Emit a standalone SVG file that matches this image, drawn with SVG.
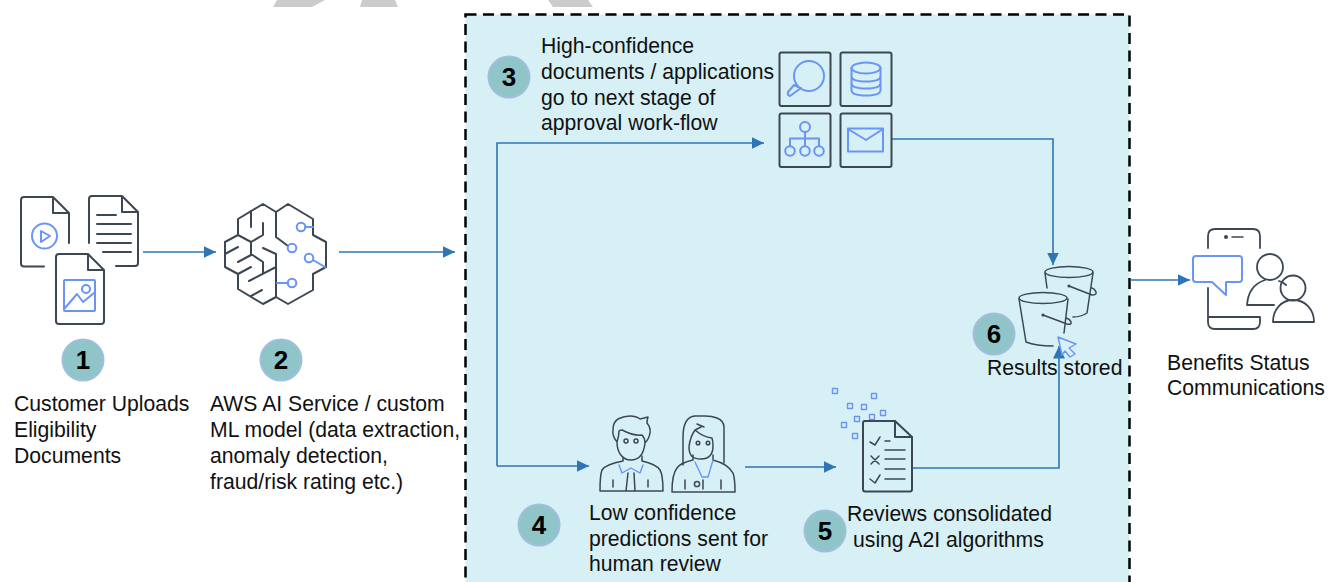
<svg xmlns="http://www.w3.org/2000/svg" width="1340" height="582" viewBox="0 0 1340 582">
<style>
text{font-family:"Liberation Sans",Arial,sans-serif;font-size:21.2px;fill:#111}
.n{font-size:26px;font-weight:bold;fill:#000;text-anchor:middle}
.b{fill:#8fc5c9;stroke:#a0bfdc;stroke-width:2}
.d{fill:none;stroke:#3c4754;stroke-width:2;stroke-linejoin:round;stroke-linecap:round}
.t{fill:none;stroke:#3c4754;stroke-width:1.5;stroke-linejoin:round;stroke-linecap:round}
.a{fill:none;stroke:#6a94f5;stroke-width:2;stroke-linejoin:round;stroke-linecap:round}
.s{fill:none;stroke:#6a94f5;stroke-width:1.4;stroke-linejoin:round;stroke-linecap:round}
.c{fill:none;stroke:#2f75b5;stroke-width:1.6}
.h{fill:#2f75b5}
</style>
<defs>
<marker id="ah" markerUnits="userSpaceOnUse" markerWidth="13" markerHeight="13" refX="12.500" refY="6.500" orient="auto"><path class="h" d="M0 0.500L12.500 6.500L0 12.500Z"/></marker>
</defs>
<g id="watermark"><path fill="#cccccc" d="M277 0H325L312 7H273Z M362 0H395L398 7H360Z M548 0H588L593 7H553Z"/></g>
<rect id="panel" x="465.500" y="14.500" width="664" height="580" fill="#d6f0f5" stroke="#000" stroke-width="2.500" stroke-dasharray="11 6.500"/>
<g id="connectors">
<path class="c" marker-end="url(#ah)" d="M143 252H216"/>
<path class="c" marker-end="url(#ah)" d="M339 252H455"/>
<path class="c" marker-end="url(#ah)" d="M497 466V143H764"/>
<path class="c" marker-end="url(#ah)" d="M497 466H589"/>
<path class="c" marker-end="url(#ah)" d="M745 467H836"/>
<path class="c" marker-end="url(#ah)" d="M892 139H1053V265"/>
<path class="c" marker-end="url(#ah)" d="M913 468H1059V346"/>
<path class="c" marker-end="url(#ah)" d="M1130 280H1190"/>
</g>
<g id="node1">
<path class="d" d="M44 266.500H24Q21 266.500 21 263.500V200Q21 197 24 197H53L69 213V243M53 197V213H69"/>
<circle class="a" cx="44.500" cy="236" r="12.500"/><path class="a" d="M41 231L50 236L41 242Z"/>
<path class="d" d="M89 243V199Q89 196 92 196H122L138 212V263Q138 266 135 266H116M122 196V212H138"/>
<path class="d" d="M97 215H116M97 224H131M97 234H131M97 243H131M103 252H131"/>
<path class="d" d="M56 321V257Q56 254 59 254H88L104 270V321Q104 324 101 324H59Q56 324 56 321ZM88 254V270H104"/>
<rect class="a" x="64" y="280" width="31" height="31" rx="1"/><circle class="a" cx="86" cy="289" r="4"/><path class="a" d="M65 308L77 294L83 302L94 293"/>
<circle class="b" cx="83" cy="360" r="20.500"/><text class="n" x="83" y="369">1</text>
<text x="14" y="411">Customer Uploads</text><text x="14" y="437">Eligibility</text><text x="14" y="463">Documents</text>
</g>
<g id="node2">
<path class="d" d="M263 204L276 212L288 204L313 219V235L326 242V267L313 274V290L288 304L276 297L263 304L238 289V274L225 267V242L238 235V219Z"/>
<path class="d" d="M276 212V237L288 246M251 211V227M238 235L251 242L263 235V223M251 242V254L263 262V273M225 254L238 247M238 262L251 255M263 248L276 254V297M238 274L251 267M249 281L276 267M251 296L262 290"/>
<circle class="a" cx="292" cy="248" r="4.300"/>
<path class="a" d="M313 227H305M313 260L325 267"/><circle class="a" cx="301" cy="227" r="4.300"/><circle class="a" cx="309" cy="258" r="4.300"/>
<path class="a" d="M277 283H288"/><circle class="a" cx="292" cy="283" r="4.300"/>
<circle class="b" cx="281" cy="360" r="20.500"/><text class="n" x="281" y="369">2</text>
<text x="210" y="411">AWS AI Service / custom</text><text x="210" y="437">ML model (data extraction,</text><text x="210" y="463">anomaly detection,</text><text x="210" y="489">fraud/risk rating etc.)</text>
</g>
<g id="node3">
<circle class="b" cx="509" cy="77" r="20.500"/><text class="n" x="509" y="86">3</text>
<text x="541" y="53">High-confidence</text><text x="541" y="79">documents / applications</text><text x="541" y="105">go to next stage of</text><text x="541" y="130">approval work-flow</text>
<rect class="d" x="779.500" y="52.500" width="51" height="53.500" rx="2"/>
<rect class="d" x="840.500" y="52.500" width="51" height="53.500" rx="2"/>
<rect class="d" x="779.500" y="113.500" width="51" height="53.500" rx="2"/>
<rect class="d" x="840.500" y="113.500" width="51" height="53.500" rx="2"/>
<circle class="a" cx="809" cy="76" r="15"/><path class="a" d="M798 87L794 85L788 92Q787 95 790 96L801 88"/>
<ellipse class="a" cx="866" cy="68" rx="14.500" ry="5.500"/><path class="a" d="M851.500 68V90Q851.500 95.500 866 95.500Q880.500 95.500 880.500 90V68M851.500 76Q851.500 81.500 866 81.500Q880.500 81.500 880.500 76M851.500 83Q851.500 88.500 866 88.500Q880.500 88.500 880.500 83"/>
<circle class="a" cx="805" cy="127" r="5"/><path class="a" d="M805 132V146M790 146V138.500H819V146"/><circle class="a" cx="790" cy="151" r="4.800"/><circle class="a" cx="805" cy="151" r="4.800"/><circle class="a" cx="819" cy="151" r="4.800"/>
<rect class="a" x="848" y="128.500" width="35" height="23"/><path class="a" d="M848 129L866 140L883 129"/>
</g>
<g id="node4">
<circle class="b" cx="539" cy="525" r="20.500"/><text class="n" x="539" y="534">4</text>
<text x="589" y="520">Low confidence</text><text x="589" y="546">predictions sent for</text><text x="589" y="571">human review</text>
<path class="t" d="M617 442Q612 436 613 430Q613 422 618 419Q624 416 630 416Q636 416 640 419L648 417Q647 420 647 423Q651 428 650 433Q649 439 645 443C644 452 640 460 631 460C622 460 617 452 617 442ZM617 442Q619 436 619 431Q622 429 624 431Q634 436 642 435Q645 438 645 443"/>
<path class="t" d="M623 458V461Q606 464 602 470Q600 475 600 491H663Q663 475 660 470Q656 464 642 461V456M628 473L626 491M634 473L635 491M613 480V487M648 480V487"/>
<path class="s" d="M619 465L622 473L631 468L640 473L643 465"/>
<circle class="t" cx="626" cy="441" r="2"/><circle class="t" cx="636" cy="441" r="2"/>
<path class="t" d="M683 465V437Q683 417 695 416L705 416Q712 416 717 418Q724 421 724 427V463M689 447C689 457 694 459 701 459C708 459 713 455 713 446Q713 441 712 438Q703 437 695 430Q690 437 689 447ZM695 430L701 427M697 424L704 427"/>
<path class="t" d="M693 460Q680 463 677 468Q672 474 672 492H735Q735 478 733 473Q728 464 713 460V455M693 455V460M685 480V489M721 480V489M703 480V489"/>
<circle class="t" cx="698" cy="443" r="1.800"/><circle class="t" cx="708" cy="443" r="1.800"/><circle class="t" cx="697" cy="484" r="2.600"/>
<path class="s" d="M695 462L702 477H708L713 460"/>
</g>
<g id="node5">
<circle class="b" cx="825" cy="531" r="20.500"/><text class="n" x="825" y="540">5</text>
<text x="847" y="521">Reviews consolidated</text><text x="853" y="547">using A2I algorithms</text>
<path class="s" d="M832.500 388.500h5v5h-5zM871.500 393.500h5v5h-5zM847.500 403.500h5v5h-5zM861.500 404.500h5v5h-5zM854.500 416.500h5v5h-5zM869.500 414.500h5v5h-5zM880.500 410.500h5v5h-5zM841.500 422.500h5v5h-5zM852.500 433.500h5v5h-5z"/>
<path d="M864 421H895L912 437V489Q912 491.500 910 491.500H865Q863 491.500 863 489V423Q863 421 865 421Z" fill="#d6f0f5" class="d" style="fill:#d6f0f5"/><path class="d" d="M895 421V437H912"/>
<path class="t" d="M870 442L875 445L880 437M885 441H890M885 450H905M871 456L879 464M879 456L871 464M885 459H905M885 469H905M870 479L875 483L880 475M885 479H905"/>
</g>
<g id="node6">
<circle class="b" cx="994" cy="334" r="20.500"/><text class="n" x="994" y="343">6</text>
<text x="987" y="375">Results stored</text>
<ellipse class="t" cx="1069" cy="272" rx="24" ry="5.500"/><path class="t" d="M1045 273L1047 288M1073 317Q1081 317 1087 313L1093 273M1069 286L1092 295Q1097 295 1096 292Q1095 289 1092 288"/><circle cx="1069" cy="286" r="1.600" fill="#3c4754"/>
<ellipse class="t" cx="1043" cy="298" rx="24" ry="5.500"/><path class="t" d="M1019 299L1026 342Q1036 346 1053 346M1068 299L1064 333M1043 315L1067 324Q1072 325 1071 322Q1070 319 1066 318"/><circle cx="1043" cy="315" r="1.600" fill="#3c4754"/>
<path class="s" d="M1058 337L1076 344L1069 348L1075 354L1070 357L1065 351L1062 355Z"/>
</g>
<g id="node7">
<path class="t" style="stroke-width:1.800" d="M1208 248V236Q1208 229 1215 229H1253Q1260 229 1260 236V248M1208 288V322Q1208 329 1215 329H1253Q1260 329 1260 322V317H1208"/>
<circle cx="1226" cy="237" r="2" fill="#3c4754"/><path class="t" d="M1232 237H1243"/>
<path class="a" d="M1196 256H1239Q1242 256 1242 259V279Q1242 282 1239 282H1226V295L1212 282H1196Q1193 282 1193 279V259Q1193 256 1196 256Z"/>
<circle class="t" style="stroke-width:1.800" cx="1270" cy="267" r="13"/><path class="t" style="stroke-width:1.800" d="M1247 305C1248 290 1256 283 1265 280M1279 281Q1283 282 1286 285M1247 305H1274"/>
<circle class="t" style="stroke-width:1.800" cx="1293" cy="288" r="12.500"/><path class="t" style="stroke-width:1.800" d="M1273 322C1273 309 1282 300 1293 300C1305 300 1314 309 1314 322Z"/>
<text x="1167" y="370">Benefits Status</text><text x="1167" y="395">Communications</text>
</g>
</svg>
